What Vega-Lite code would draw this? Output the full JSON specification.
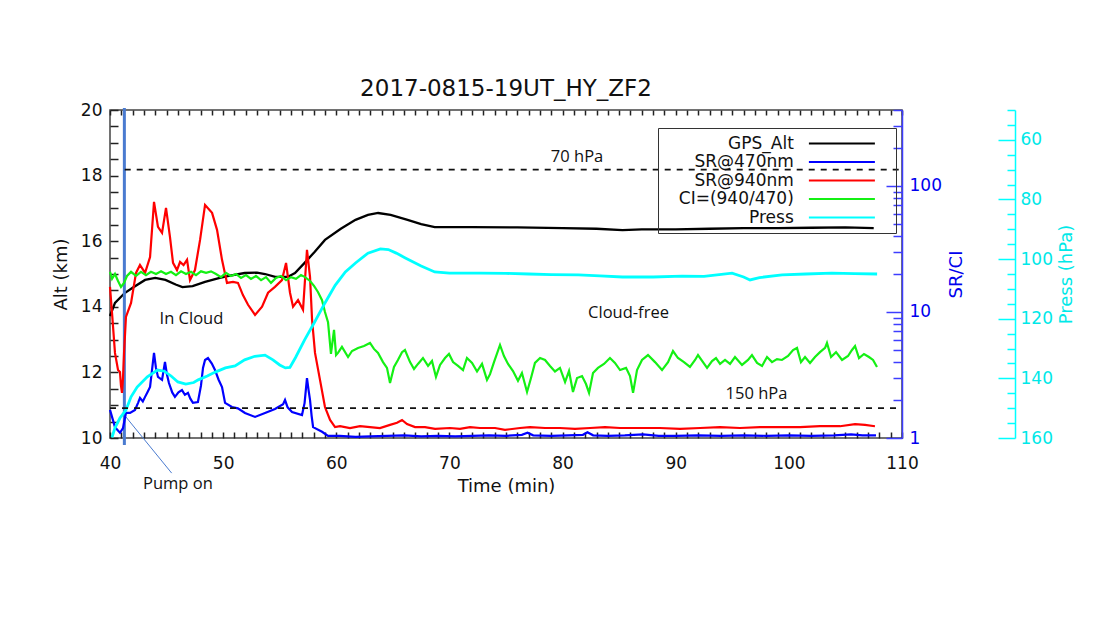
{
  "$schema": "https://vega.github.io/schema/vega-lite/v6.json",
  "width": 792,
  "height": 328,
  "autosize": {"type": "none"},
  "padding": {"left": 110, "top": 110, "right": 191, "bottom": 184},
  "background": "white",
  "title": {
    "text": "2017-0815-19UT_HY_ZF2",
    "font": "DejaVu Sans",
    "fontSize": 23,
    "fontWeight": "normal",
    "color": "#111111",
    "anchor": "middle",
    "frame": "group",
    "baseline": "alphabetic",
    "offset": -18
  },
  "config": {
    "view": {"stroke": "#444444", "strokeWidth": 1.5},
    "axis": {
      "grid": false,
      "domain": false,
      "minExtent": 0,
      "labelFont": "DejaVu Sans",
      "labelFontSize": 17,
      "labelColor": "#111111",
      "titleFont": "DejaVu Sans",
      "titleFontSize": 18,
      "titleFontWeight": "normal",
      "titleColor": "#111111",
      "tickColor": "#222222",
      "tickWidth": 1.5,
      "labelOverlap": false,
      "labelFlush": false
    }
  },
  "datasets": {
    "flight": [
      {"s": "GPS_Alt", "t": 40.0, "v": 13.72}, {"s": "GPS_Alt", "t": 40.44, "v": 14.12}, {"s": "GPS_Alt", "t": 41.3, "v": 14.42},
      {"s": "GPS_Alt", "t": 42.0, "v": 14.58}, {"s": "GPS_Alt", "t": 43.1, "v": 14.82}, {"s": "GPS_Alt", "t": 44.0, "v": 14.88},
      {"s": "GPS_Alt", "t": 44.9, "v": 14.82}, {"s": "GPS_Alt", "t": 45.8, "v": 14.68}, {"s": "GPS_Alt", "t": 46.4, "v": 14.6},
      {"s": "GPS_Alt", "t": 47.3, "v": 14.63}, {"s": "GPS_Alt", "t": 48.4, "v": 14.76}, {"s": "GPS_Alt", "t": 49.7, "v": 14.88},
      {"s": "GPS_Alt", "t": 50.5, "v": 14.94}, {"s": "GPS_Alt", "t": 51.9, "v": 15.03}, {"s": "GPS_Alt", "t": 53.0, "v": 15.04},
      {"s": "GPS_Alt", "t": 53.7, "v": 15.0}, {"s": "GPS_Alt", "t": 54.6, "v": 14.91}, {"s": "GPS_Alt", "t": 55.7, "v": 14.91},
      {"s": "GPS_Alt", "t": 56.35, "v": 15.03}, {"s": "GPS_Alt", "t": 57.2, "v": 15.34}, {"s": "GPS_Alt", "t": 58.1, "v": 15.68},
      {"s": "GPS_Alt", "t": 59.0, "v": 16.04}, {"s": "GPS_Alt", "t": 60.4, "v": 16.38}, {"s": "GPS_Alt", "t": 61.7, "v": 16.65},
      {"s": "GPS_Alt", "t": 62.8, "v": 16.8}, {"s": "GPS_Alt", "t": 63.7, "v": 16.86}, {"s": "GPS_Alt", "t": 64.8, "v": 16.8},
      {"s": "GPS_Alt", "t": 66.3, "v": 16.65}, {"s": "GPS_Alt", "t": 67.5, "v": 16.52}, {"s": "GPS_Alt", "t": 68.7, "v": 16.43},
      {"s": "GPS_Alt", "t": 72.0, "v": 16.43}, {"s": "GPS_Alt", "t": 76.0, "v": 16.42}, {"s": "GPS_Alt", "t": 80.0, "v": 16.4},
      {"s": "GPS_Alt", "t": 83.0, "v": 16.38}, {"s": "GPS_Alt", "t": 85.3, "v": 16.34}, {"s": "GPS_Alt", "t": 87.0, "v": 16.36},
      {"s": "GPS_Alt", "t": 90.0, "v": 16.36}, {"s": "GPS_Alt", "t": 93.0, "v": 16.38}, {"s": "GPS_Alt", "t": 96.0, "v": 16.4},
      {"s": "GPS_Alt", "t": 99.0, "v": 16.4}, {"s": "GPS_Alt", "t": 102.0, "v": 16.41}, {"s": "GPS_Alt", "t": 105.0, "v": 16.42},
      {"s": "GPS_Alt", "t": 107.5, "v": 16.4},

      {"s": "SR@470nm", "t": 40.0, "v": 1.67}, {"s": "SR@470nm", "t": 40.44, "v": 1.22}, {"s": "SR@470nm", "t": 40.88, "v": 1.1},
      {"s": "SR@470nm", "t": 41.15, "v": 1.2}, {"s": "SR@470nm", "t": 41.41, "v": 1.58}, {"s": "SR@470nm", "t": 41.77, "v": 1.58},
      {"s": "SR@470nm", "t": 42.21, "v": 1.67}, {"s": "SR@470nm", "t": 42.48, "v": 1.9}, {"s": "SR@470nm", "t": 42.65, "v": 2.08},
      {"s": "SR@470nm", "t": 42.9, "v": 1.95}, {"s": "SR@470nm", "t": 43.1, "v": 2.12}, {"s": "SR@470nm", "t": 43.3, "v": 2.3},
      {"s": "SR@470nm", "t": 43.54, "v": 2.54}, {"s": "SR@470nm", "t": 43.89, "v": 4.73}, {"s": "SR@470nm", "t": 44.06, "v": 3.6},
      {"s": "SR@470nm", "t": 44.24, "v": 3.05}, {"s": "SR@470nm", "t": 44.6, "v": 2.89}, {"s": "SR@470nm", "t": 44.86, "v": 4.01},
      {"s": "SR@470nm", "t": 45.03, "v": 3.2}, {"s": "SR@470nm", "t": 45.21, "v": 2.73}, {"s": "SR@470nm", "t": 45.5, "v": 2.3},
      {"s": "SR@470nm", "t": 45.74, "v": 2.12}, {"s": "SR@470nm", "t": 46.05, "v": 2.3}, {"s": "SR@470nm", "t": 46.36, "v": 2.4},
      {"s": "SR@470nm", "t": 46.62, "v": 2.2}, {"s": "SR@470nm", "t": 46.89, "v": 2.28}, {"s": "SR@470nm", "t": 47.1, "v": 2.05},
      {"s": "SR@470nm", "t": 47.33, "v": 1.9}, {"s": "SR@470nm", "t": 47.77, "v": 1.93}, {"s": "SR@470nm", "t": 48.04, "v": 2.6},
      {"s": "SR@470nm", "t": 48.22, "v": 3.6}, {"s": "SR@470nm", "t": 48.4, "v": 4.16}, {"s": "SR@470nm", "t": 48.66, "v": 4.31},
      {"s": "SR@470nm", "t": 49.0, "v": 3.9}, {"s": "SR@470nm", "t": 49.28, "v": 3.46}, {"s": "SR@470nm", "t": 49.6, "v": 2.9},
      {"s": "SR@470nm", "t": 49.9, "v": 2.54}, {"s": "SR@470nm", "t": 50.17, "v": 1.9}, {"s": "SR@470nm", "t": 50.78, "v": 1.76},
      {"s": "SR@470nm", "t": 51.3, "v": 1.72}, {"s": "SR@470nm", "t": 51.93, "v": 1.58}, {"s": "SR@470nm", "t": 52.82, "v": 1.47},
      {"s": "SR@470nm", "t": 53.7, "v": 1.58}, {"s": "SR@470nm", "t": 54.58, "v": 1.7}, {"s": "SR@470nm", "t": 55.3, "v": 1.85},
      {"s": "SR@470nm", "t": 55.47, "v": 2.0}, {"s": "SR@470nm", "t": 55.7, "v": 1.75}, {"s": "SR@470nm", "t": 56.09, "v": 1.61},
      {"s": "SR@470nm", "t": 56.97, "v": 1.52}, {"s": "SR@470nm", "t": 57.2, "v": 1.9}, {"s": "SR@470nm", "t": 57.41, "v": 2.99},
      {"s": "SR@470nm", "t": 57.55, "v": 2.4}, {"s": "SR@470nm", "t": 57.68, "v": 2.0}, {"s": "SR@470nm", "t": 57.82, "v": 1.5},
      {"s": "SR@470nm", "t": 57.95, "v": 1.22}, {"s": "SR@470nm", "t": 58.74, "v": 1.12}, {"s": "SR@470nm", "t": 59.27, "v": 1.04},
      {"s": "SR@470nm", "t": 60.3, "v": 1.04}, {"s": "SR@470nm", "t": 61.7, "v": 1.02}, {"s": "SR@470nm", "t": 63.0, "v": 1.03},
      {"s": "SR@470nm", "t": 64.5, "v": 1.04}, {"s": "SR@470nm", "t": 66.0, "v": 1.05}, {"s": "SR@470nm", "t": 67.5, "v": 1.03},
      {"s": "SR@470nm", "t": 69.0, "v": 1.04}, {"s": "SR@470nm", "t": 70.5, "v": 1.03}, {"s": "SR@470nm", "t": 72.0, "v": 1.04},
      {"s": "SR@470nm", "t": 73.5, "v": 1.05}, {"s": "SR@470nm", "t": 75.0, "v": 1.04}, {"s": "SR@470nm", "t": 76.4, "v": 1.06},
      {"s": "SR@470nm", "t": 76.9, "v": 1.1}, {"s": "SR@470nm", "t": 77.4, "v": 1.05}, {"s": "SR@470nm", "t": 79.0, "v": 1.04},
      {"s": "SR@470nm", "t": 80.5, "v": 1.05}, {"s": "SR@470nm", "t": 81.8, "v": 1.06}, {"s": "SR@470nm", "t": 82.2, "v": 1.11},
      {"s": "SR@470nm", "t": 82.7, "v": 1.05}, {"s": "SR@470nm", "t": 84.0, "v": 1.04}, {"s": "SR@470nm", "t": 85.5, "v": 1.05},
      {"s": "SR@470nm", "t": 87.1, "v": 1.07}, {"s": "SR@470nm", "t": 88.5, "v": 1.04}, {"s": "SR@470nm", "t": 90.0, "v": 1.04},
      {"s": "SR@470nm", "t": 92.0, "v": 1.05}, {"s": "SR@470nm", "t": 94.0, "v": 1.04}, {"s": "SR@470nm", "t": 96.0, "v": 1.05},
      {"s": "SR@470nm", "t": 98.0, "v": 1.04}, {"s": "SR@470nm", "t": 100.0, "v": 1.05}, {"s": "SR@470nm", "t": 102.0, "v": 1.04},
      {"s": "SR@470nm", "t": 104.0, "v": 1.05}, {"s": "SR@470nm", "t": 105.5, "v": 1.07}, {"s": "SR@470nm", "t": 106.5, "v": 1.05},
      {"s": "SR@470nm", "t": 107.7, "v": 1.05},

      {"s": "SR@940nm", "t": 40.0, "v": 15.8}, {"s": "SR@940nm", "t": 40.18, "v": 9.8}, {"s": "SR@940nm", "t": 40.44, "v": 4.73},
      {"s": "SR@940nm", "t": 40.71, "v": 3.46}, {"s": "SR@940nm", "t": 40.88, "v": 3.34}, {"s": "SR@940nm", "t": 40.97, "v": 2.6},
      {"s": "SR@940nm", "t": 41.06, "v": 2.28}, {"s": "SR@940nm", "t": 41.15, "v": 3.0}, {"s": "SR@940nm", "t": 41.24, "v": 4.73},
      {"s": "SR@940nm", "t": 41.41, "v": 9.13}, {"s": "SR@940nm", "t": 41.86, "v": 11.8}, {"s": "SR@940nm", "t": 42.3, "v": 20.4},
      {"s": "SR@940nm", "t": 42.65, "v": 23.6}, {"s": "SR@940nm", "t": 43.1, "v": 20.4}, {"s": "SR@940nm", "t": 43.54, "v": 27.3},
      {"s": "SR@940nm", "t": 43.89, "v": 74.6}, {"s": "SR@940nm", "t": 44.24, "v": 47.3}, {"s": "SR@940nm", "t": 44.6, "v": 42.4},
      {"s": "SR@940nm", "t": 44.95, "v": 66.9}, {"s": "SR@940nm", "t": 45.3, "v": 39.4}, {"s": "SR@940nm", "t": 45.57, "v": 24.5},
      {"s": "SR@940nm", "t": 45.92, "v": 21.5}, {"s": "SR@940nm", "t": 46.19, "v": 24.9}, {"s": "SR@940nm", "t": 46.5, "v": 23.5},
      {"s": "SR@940nm", "t": 46.81, "v": 25.9}, {"s": "SR@940nm", "t": 47.07, "v": 17.9}, {"s": "SR@940nm", "t": 47.51, "v": 21.5},
      {"s": "SR@940nm", "t": 47.96, "v": 37.3}, {"s": "SR@940nm", "t": 48.4, "v": 70.6}, {"s": "SR@940nm", "t": 49.02, "v": 61.1},
      {"s": "SR@940nm", "t": 49.46, "v": 44.8}, {"s": "SR@940nm", "t": 49.9, "v": 25.9}, {"s": "SR@940nm", "t": 50.34, "v": 17.0},
      {"s": "SR@940nm", "t": 50.87, "v": 17.3}, {"s": "SR@940nm", "t": 51.31, "v": 17.0}, {"s": "SR@940nm", "t": 51.75, "v": 13.6},
      {"s": "SR@940nm", "t": 52.2, "v": 11.4}, {"s": "SR@940nm", "t": 52.82, "v": 9.47}, {"s": "SR@940nm", "t": 53.44, "v": 11.0},
      {"s": "SR@940nm", "t": 53.97, "v": 14.2}, {"s": "SR@940nm", "t": 54.58, "v": 15.8}, {"s": "SR@940nm", "t": 55.2, "v": 17.9},
      {"s": "SR@940nm", "t": 55.56, "v": 24.5}, {"s": "SR@940nm", "t": 55.91, "v": 14.2}, {"s": "SR@940nm", "t": 56.18, "v": 11.0},
      {"s": "SR@940nm", "t": 56.62, "v": 12.4}, {"s": "SR@940nm", "t": 57.06, "v": 10.4}, {"s": "SR@940nm", "t": 57.41, "v": 31.1},
      {"s": "SR@940nm", "t": 57.68, "v": 18.9}, {"s": "SR@940nm", "t": 57.86, "v": 8.64}, {"s": "SR@940nm", "t": 58.12, "v": 4.73},
      {"s": "SR@940nm", "t": 58.56, "v": 2.89}, {"s": "SR@940nm", "t": 59.0, "v": 1.76}, {"s": "SR@940nm", "t": 59.45, "v": 1.39},
      {"s": "SR@940nm", "t": 59.89, "v": 1.22}, {"s": "SR@940nm", "t": 60.33, "v": 1.24}, {"s": "SR@940nm", "t": 61.21, "v": 1.2},
      {"s": "SR@940nm", "t": 62.1, "v": 1.24}, {"s": "SR@940nm", "t": 62.98, "v": 1.22}, {"s": "SR@940nm", "t": 63.86, "v": 1.2},
      {"s": "SR@940nm", "t": 64.75, "v": 1.27}, {"s": "SR@940nm", "t": 65.37, "v": 1.32}, {"s": "SR@940nm", "t": 65.81, "v": 1.39},
      {"s": "SR@940nm", "t": 66.25, "v": 1.29}, {"s": "SR@940nm", "t": 66.96, "v": 1.22}, {"s": "SR@940nm", "t": 67.84, "v": 1.22},
      {"s": "SR@940nm", "t": 68.73, "v": 1.18}, {"s": "SR@940nm", "t": 70.05, "v": 1.2}, {"s": "SR@940nm", "t": 70.93, "v": 1.18},
      {"s": "SR@940nm", "t": 71.82, "v": 1.22}, {"s": "SR@940nm", "t": 72.7, "v": 1.2}, {"s": "SR@940nm", "t": 74.03, "v": 1.2},
      {"s": "SR@940nm", "t": 74.91, "v": 1.16}, {"s": "SR@940nm", "t": 76.24, "v": 1.2}, {"s": "SR@940nm", "t": 77.12, "v": 1.22},
      {"s": "SR@940nm", "t": 78.45, "v": 1.2}, {"s": "SR@940nm", "t": 79.77, "v": 1.2}, {"s": "SR@940nm", "t": 81.1, "v": 1.18},
      {"s": "SR@940nm", "t": 82.43, "v": 1.2}, {"s": "SR@940nm", "t": 83.75, "v": 1.22}, {"s": "SR@940nm", "t": 85.08, "v": 1.2},
      {"s": "SR@940nm", "t": 86.84, "v": 1.2}, {"s": "SR@940nm", "t": 88.61, "v": 1.2}, {"s": "SR@940nm", "t": 90.38, "v": 1.18},
      {"s": "SR@940nm", "t": 92.15, "v": 1.2}, {"s": "SR@940nm", "t": 93.92, "v": 1.22}, {"s": "SR@940nm", "t": 95.68, "v": 1.2},
      {"s": "SR@940nm", "t": 97.45, "v": 1.22}, {"s": "SR@940nm", "t": 99.22, "v": 1.22}, {"s": "SR@940nm", "t": 100.99, "v": 1.22},
      {"s": "SR@940nm", "t": 102.75, "v": 1.24}, {"s": "SR@940nm", "t": 104.52, "v": 1.24}, {"s": "SR@940nm", "t": 105.85, "v": 1.29},
      {"s": "SR@940nm", "t": 106.73, "v": 1.27}, {"s": "SR@940nm", "t": 107.61, "v": 1.24},

      {"s": "CI=(940/470)", "t": 40.0, "v": 20.8}, {"s": "CI=(940/470)", "t": 40.18, "v": 18.3}, {"s": "CI=(940/470)", "t": 40.44, "v": 20.0},
      {"s": "CI=(940/470)", "t": 40.71, "v": 17.6}, {"s": "CI=(940/470)", "t": 40.97, "v": 15.8}, {"s": "CI=(940/470)", "t": 41.24, "v": 17.0},
      {"s": "CI=(940/470)", "t": 41.5, "v": 19.3}, {"s": "CI=(940/470)", "t": 41.86, "v": 20.8}, {"s": "CI=(940/470)", "t": 42.3, "v": 19.3},
      {"s": "CI=(940/470)", "t": 42.74, "v": 20.8}, {"s": "CI=(940/470)", "t": 43.18, "v": 19.6}, {"s": "CI=(940/470)", "t": 43.62, "v": 20.8},
      {"s": "CI=(940/470)", "t": 44.07, "v": 20.0}, {"s": "CI=(940/470)", "t": 44.51, "v": 21.0}, {"s": "CI=(940/470)", "t": 44.95, "v": 20.0},
      {"s": "CI=(940/470)", "t": 45.39, "v": 20.8}, {"s": "CI=(940/470)", "t": 45.83, "v": 19.6}, {"s": "CI=(940/470)", "t": 46.28, "v": 21.0},
      {"s": "CI=(940/470)", "t": 46.72, "v": 20.0}, {"s": "CI=(940/470)", "t": 47.16, "v": 20.8}, {"s": "CI=(940/470)", "t": 47.6, "v": 19.6},
      {"s": "CI=(940/470)", "t": 48.04, "v": 21.0}, {"s": "CI=(940/470)", "t": 48.49, "v": 20.4}, {"s": "CI=(940/470)", "t": 48.93, "v": 21.0},
      {"s": "CI=(940/470)", "t": 49.37, "v": 20.0}, {"s": "CI=(940/470)", "t": 49.81, "v": 18.9}, {"s": "CI=(940/470)", "t": 50.25, "v": 20.4},
      {"s": "CI=(940/470)", "t": 50.69, "v": 19.3}, {"s": "CI=(940/470)", "t": 51.14, "v": 20.0}, {"s": "CI=(940/470)", "t": 51.58, "v": 18.6},
      {"s": "CI=(940/470)", "t": 52.02, "v": 19.6}, {"s": "CI=(940/470)", "t": 52.46, "v": 18.3}, {"s": "CI=(940/470)", "t": 52.9, "v": 19.3},
      {"s": "CI=(940/470)", "t": 53.35, "v": 17.9}, {"s": "CI=(940/470)", "t": 53.79, "v": 18.9}, {"s": "CI=(940/470)", "t": 54.23, "v": 17.0},
      {"s": "CI=(940/470)", "t": 54.67, "v": 18.6}, {"s": "CI=(940/470)", "t": 55.11, "v": 19.3}, {"s": "CI=(940/470)", "t": 55.56, "v": 17.9},
      {"s": "CI=(940/470)", "t": 56.0, "v": 18.9}, {"s": "CI=(940/470)", "t": 56.44, "v": 18.3}, {"s": "CI=(940/470)", "t": 56.88, "v": 19.6},
      {"s": "CI=(940/470)", "t": 57.24, "v": 18.9}, {"s": "CI=(940/470)", "t": 57.68, "v": 17.6}, {"s": "CI=(940/470)", "t": 58.03, "v": 16.1},
      {"s": "CI=(940/470)", "t": 58.38, "v": 14.4}, {"s": "CI=(940/470)", "t": 58.74, "v": 12.4}, {"s": "CI=(940/470)", "t": 59.0, "v": 10.0},
      {"s": "CI=(940/470)", "t": 59.27, "v": 8.3}, {"s": "CI=(940/470)", "t": 59.53, "v": 4.64}, {"s": "CI=(940/470)", "t": 59.8, "v": 7.2},
      {"s": "CI=(940/470)", "t": 59.98, "v": 4.55}, {"s": "CI=(940/470)", "t": 60.15, "v": 4.73}, {"s": "CI=(940/470)", "t": 60.5, "v": 5.28},
      {"s": "CI=(940/470)", "t": 61.04, "v": 4.39}, {"s": "CI=(940/470)", "t": 61.39, "v": 4.9}, {"s": "CI=(940/470)", "t": 61.92, "v": 5.18},
      {"s": "CI=(940/470)", "t": 62.45, "v": 5.37}, {"s": "CI=(940/470)", "t": 62.98, "v": 5.67}, {"s": "CI=(940/470)", "t": 63.33, "v": 5.09},
      {"s": "CI=(940/470)", "t": 63.69, "v": 4.73}, {"s": "CI=(940/470)", "t": 64.13, "v": 4.0}, {"s": "CI=(940/470)", "t": 64.48, "v": 3.6},
      {"s": "CI=(940/470)", "t": 64.75, "v": 2.73}, {"s": "CI=(940/470)", "t": 65.1, "v": 3.66}, {"s": "CI=(940/470)", "t": 65.45, "v": 4.16},
      {"s": "CI=(940/470)", "t": 65.81, "v": 4.8}, {"s": "CI=(940/470)", "t": 66.07, "v": 4.99}, {"s": "CI=(940/470)", "t": 66.52, "v": 4.0},
      {"s": "CI=(940/470)", "t": 66.87, "v": 3.53}, {"s": "CI=(940/470)", "t": 67.22, "v": 3.87}, {"s": "CI=(940/470)", "t": 67.66, "v": 4.31},
      {"s": "CI=(940/470)", "t": 68.11, "v": 3.73}, {"s": "CI=(940/470)", "t": 68.46, "v": 4.08}, {"s": "CI=(940/470)", "t": 68.81, "v": 3.05},
      {"s": "CI=(940/470)", "t": 69.17, "v": 3.8}, {"s": "CI=(940/470)", "t": 69.61, "v": 4.31}, {"s": "CI=(940/470)", "t": 69.96, "v": 4.64},
      {"s": "CI=(940/470)", "t": 70.32, "v": 4.0}, {"s": "CI=(940/470)", "t": 70.76, "v": 3.73}, {"s": "CI=(940/470)", "t": 71.2, "v": 3.46},
      {"s": "CI=(940/470)", "t": 71.55, "v": 4.31}, {"s": "CI=(940/470)", "t": 72.0, "v": 3.94}, {"s": "CI=(940/470)", "t": 72.44, "v": 3.37},
      {"s": "CI=(940/470)", "t": 72.88, "v": 3.87}, {"s": "CI=(940/470)", "t": 73.32, "v": 2.89}, {"s": "CI=(940/470)", "t": 73.59, "v": 3.21},
      {"s": "CI=(940/470)", "t": 73.94, "v": 4.0}, {"s": "CI=(940/470)", "t": 74.47, "v": 5.47}, {"s": "CI=(940/470)", "t": 74.82, "v": 4.47},
      {"s": "CI=(940/470)", "t": 75.18, "v": 3.87}, {"s": "CI=(940/470)", "t": 75.62, "v": 3.4}, {"s": "CI=(940/470)", "t": 76.06, "v": 2.84},
      {"s": "CI=(940/470)", "t": 76.41, "v": 3.28}, {"s": "CI=(940/470)", "t": 76.86, "v": 2.32}, {"s": "CI=(940/470)", "t": 77.21, "v": 2.99},
      {"s": "CI=(940/470)", "t": 77.56, "v": 3.94}, {"s": "CI=(940/470)", "t": 78.01, "v": 4.31}, {"s": "CI=(940/470)", "t": 78.45, "v": 4.16},
      {"s": "CI=(940/470)", "t": 78.89, "v": 3.73}, {"s": "CI=(940/470)", "t": 79.33, "v": 3.37}, {"s": "CI=(940/470)", "t": 79.77, "v": 3.6},
      {"s": "CI=(940/470)", "t": 80.22, "v": 2.78}, {"s": "CI=(940/470)", "t": 80.57, "v": 3.4}, {"s": "CI=(940/470)", "t": 80.92, "v": 2.32},
      {"s": "CI=(940/470)", "t": 81.28, "v": 2.99}, {"s": "CI=(940/470)", "t": 81.72, "v": 3.1}, {"s": "CI=(940/470)", "t": 82.07, "v": 2.68},
      {"s": "CI=(940/470)", "t": 82.34, "v": 2.28}, {"s": "CI=(940/470)", "t": 82.69, "v": 3.28}, {"s": "CI=(940/470)", "t": 83.13, "v": 3.6},
      {"s": "CI=(940/470)", "t": 83.66, "v": 3.87}, {"s": "CI=(940/470)", "t": 84.19, "v": 4.31}, {"s": "CI=(940/470)", "t": 84.63, "v": 3.94},
      {"s": "CI=(940/470)", "t": 85.08, "v": 3.46}, {"s": "CI=(940/470)", "t": 85.61, "v": 3.6}, {"s": "CI=(940/470)", "t": 85.96, "v": 3.1},
      {"s": "CI=(940/470)", "t": 86.23, "v": 2.28}, {"s": "CI=(940/470)", "t": 86.58, "v": 3.46}, {"s": "CI=(940/470)", "t": 87.02, "v": 4.16},
      {"s": "CI=(940/470)", "t": 87.55, "v": 4.55}, {"s": "CI=(940/470)", "t": 88.17, "v": 4.0}, {"s": "CI=(940/470)", "t": 88.79, "v": 3.46},
      {"s": "CI=(940/470)", "t": 89.32, "v": 4.0}, {"s": "CI=(940/470)", "t": 89.76, "v": 4.9}, {"s": "CI=(940/470)", "t": 90.2, "v": 4.31},
      {"s": "CI=(940/470)", "t": 90.73, "v": 4.0}, {"s": "CI=(940/470)", "t": 91.26, "v": 3.66}, {"s": "CI=(940/470)", "t": 91.71, "v": 4.16},
      {"s": "CI=(940/470)", "t": 91.97, "v": 4.55}, {"s": "CI=(940/470)", "t": 92.41, "v": 4.0}, {"s": "CI=(940/470)", "t": 92.77, "v": 3.6},
      {"s": "CI=(940/470)", "t": 93.21, "v": 4.08}, {"s": "CI=(940/470)", "t": 93.56, "v": 4.31}, {"s": "CI=(940/470)", "t": 93.92, "v": 3.87},
      {"s": "CI=(940/470)", "t": 94.36, "v": 4.16}, {"s": "CI=(940/470)", "t": 94.8, "v": 3.87}, {"s": "CI=(940/470)", "t": 95.24, "v": 4.39},
      {"s": "CI=(940/470)", "t": 95.86, "v": 3.8}, {"s": "CI=(940/470)", "t": 96.39, "v": 4.16}, {"s": "CI=(940/470)", "t": 96.74, "v": 4.55},
      {"s": "CI=(940/470)", "t": 97.19, "v": 3.94}, {"s": "CI=(940/470)", "t": 97.63, "v": 3.73}, {"s": "CI=(940/470)", "t": 98.07, "v": 4.39},
      {"s": "CI=(940/470)", "t": 98.51, "v": 4.0}, {"s": "CI=(940/470)", "t": 98.95, "v": 4.23}, {"s": "CI=(940/470)", "t": 99.39, "v": 4.16},
      {"s": "CI=(940/470)", "t": 99.93, "v": 4.47}, {"s": "CI=(940/470)", "t": 100.37, "v": 4.99}, {"s": "CI=(940/470)", "t": 100.72, "v": 5.18},
      {"s": "CI=(940/470)", "t": 101.07, "v": 4.0}, {"s": "CI=(940/470)", "t": 101.43, "v": 4.39}, {"s": "CI=(940/470)", "t": 101.87, "v": 3.94},
      {"s": "CI=(940/470)", "t": 102.31, "v": 4.39}, {"s": "CI=(940/470)", "t": 102.75, "v": 4.8}, {"s": "CI=(940/470)", "t": 103.2, "v": 5.18},
      {"s": "CI=(940/470)", "t": 103.37, "v": 5.67}, {"s": "CI=(940/470)", "t": 103.73, "v": 4.39}, {"s": "CI=(940/470)", "t": 104.17, "v": 4.8},
      {"s": "CI=(940/470)", "t": 104.7, "v": 4.16}, {"s": "CI=(940/470)", "t": 105.23, "v": 4.47}, {"s": "CI=(940/470)", "t": 105.58, "v": 4.99},
      {"s": "CI=(940/470)", "t": 105.85, "v": 5.37}, {"s": "CI=(940/470)", "t": 106.2, "v": 4.31}, {"s": "CI=(940/470)", "t": 106.64, "v": 4.64},
      {"s": "CI=(940/470)", "t": 107.08, "v": 4.39}, {"s": "CI=(940/470)", "t": 107.44, "v": 4.16}, {"s": "CI=(940/470)", "t": 107.79, "v": 3.66},

      {"s": "Press", "t": 40.18, "v": 159.8}, {"s": "Press", "t": 40.44, "v": 156.6}, {"s": "Press", "t": 40.88, "v": 153.3},
      {"s": "Press", "t": 41.41, "v": 150.6}, {"s": "Press", "t": 41.86, "v": 146.2}, {"s": "Press", "t": 42.4, "v": 142.9},
      {"s": "Press", "t": 43.3, "v": 139.5}, {"s": "Press", "t": 44.2, "v": 137.2}, {"s": "Press", "t": 44.8, "v": 137.6},
      {"s": "Press", "t": 45.4, "v": 139.2}, {"s": "Press", "t": 46.0, "v": 141.2}, {"s": "Press", "t": 46.7, "v": 141.9},
      {"s": "Press", "t": 47.4, "v": 141.4}, {"s": "Press", "t": 47.8, "v": 140.5}, {"s": "Press", "t": 48.6, "v": 139.2},
      {"s": "Press", "t": 49.3, "v": 137.9}, {"s": "Press", "t": 50.2, "v": 136.5}, {"s": "Press", "t": 51.05, "v": 135.8},
      {"s": "Press", "t": 51.9, "v": 133.8}, {"s": "Press", "t": 52.8, "v": 132.6}, {"s": "Press", "t": 53.7, "v": 132.2},
      {"s": "Press", "t": 54.4, "v": 133.8}, {"s": "Press", "t": 55.0, "v": 135.5}, {"s": "Press", "t": 55.5, "v": 136.5},
      {"s": "Press", "t": 55.9, "v": 136.3}, {"s": "Press", "t": 56.4, "v": 133.0}, {"s": "Press", "t": 57.2, "v": 127.1},
      {"s": "Press", "t": 58.1, "v": 121.0}, {"s": "Press", "t": 59.0, "v": 114.7}, {"s": "Press", "t": 59.9, "v": 108.8},
      {"s": "Press", "t": 60.8, "v": 104.3}, {"s": "Press", "t": 61.7, "v": 101.3}, {"s": "Press", "t": 62.8, "v": 98.0},
      {"s": "Press", "t": 63.9, "v": 96.6}, {"s": "Press", "t": 64.6, "v": 96.8}, {"s": "Press", "t": 65.3, "v": 98.0},
      {"s": "Press", "t": 66.1, "v": 99.6}, {"s": "Press", "t": 67.5, "v": 102.3}, {"s": "Press", "t": 68.7, "v": 104.3},
      {"s": "Press", "t": 70.0, "v": 104.7}, {"s": "Press", "t": 72.7, "v": 104.7}, {"s": "Press", "t": 75.0, "v": 104.8},
      {"s": "Press", "t": 77.0, "v": 105.0}, {"s": "Press", "t": 79.0, "v": 105.2}, {"s": "Press", "t": 81.4, "v": 105.3},
      {"s": "Press", "t": 83.3, "v": 105.6}, {"s": "Press", "t": 85.3, "v": 106.0}, {"s": "Press", "t": 88.0, "v": 106.0},
      {"s": "Press", "t": 90.56, "v": 105.7}, {"s": "Press", "t": 92.5, "v": 105.8}, {"s": "Press", "t": 94.98, "v": 104.7},
      {"s": "Press", "t": 96.0, "v": 106.0}, {"s": "Press", "t": 96.57, "v": 107.0}, {"s": "Press", "t": 97.4, "v": 106.2},
      {"s": "Press", "t": 99.4, "v": 105.3}, {"s": "Press", "t": 101.5, "v": 105.0}, {"s": "Press", "t": 103.8, "v": 104.7},
      {"s": "Press", "t": 105.8, "v": 104.9}, {"s": "Press", "t": 107.8, "v": 105.0}
    ],
    "pump": [
      {"k": "pump_on", "t": 41.27, "t2": 41.27, "v": 20.06, "v2": 9.79},
      {"k": "pointer", "t": 41.41, "t2": 45.45, "v": 10.64, "v2": 8.93}
    ],
    "levels": [
      {"v": 70, "t": 41.3, "t2": 110},
      {"v": 150, "t": 40, "t2": 110}
    ],
    "notes": [
      {"text": "In Cloud", "t": 47.2, "v": 13.63, "scale": "alt"},
      {"text": "Cloud-free", "t": 85.83, "v": 13.8, "scale": "alt"},
      {"text": "Pump on", "t": 46.0, "v": 8.6, "scale": "alt"},
      {"text": "70 hPa", "t": 81.28, "v": 65.8, "scale": "press"},
      {"text": "150 hPa", "t": 97.14, "v": 145.2, "scale": "press"}
    ]
  },
  "layer": [
    {
      "encoding": {
        "x": {
          "field": "t", "type": "quantitative",
          "scale": {"domain": [40, 110], "nice": false, "zero": false},
          "axis": {
            "orient": "bottom", "title": "Time (min)",
            "values": [40,41,42,43,44,45,46,47,48,49,50,51,52,53,54,55,56,57,58,59,60,61,62,63,64,65,66,67,68,69,70,71,72,73,74,75,76,77,78,79,80,81,82,83,84,85,86,87,88,89,90,91,92,93,94,95,96,97,98,99,100,101,102,103,104,105,106,107,108,109,110],
            "labelExpr": "datum.value % 10 === 0 ? format(datum.value, 'd') : ''",
            "tickSize": -6, "labelPadding": 23, "titlePadding": 6
          }
        },
        "y": {
          "field": "v", "type": "quantitative",
          "scale": {"domain": [10, 20], "nice": false, "zero": false},
          "axis": {
            "orient": "left", "title": "Alt (km)",
            "values": [10,10.5,11,11.5,12,12.5,13,13.5,14,14.5,15,15.5,16,16.5,17,17.5,18,18.5,19,19.5,20],
            "labelExpr": "datum.value % 2 === 0 ? format(datum.value, 'd') : ''",
            "tickSize": -8, "labelPadding": 16, "titlePadding": 10
          }
        }
      },
      "layer": [
        {
          "data": {"name": "flight"},
          "transform": [{"filter": "datum.s === 'GPS_Alt'"}],
          "mark": {"type": "line", "strokeWidth": 2.3},
          "encoding": {
            "color": {
              "field": "s", "type": "nominal",
              "scale": {
                "domain": ["GPS_Alt", "SR@470nm", "SR@940nm", "CI=(940/470)", "Press"],
                "range": ["#000000", "#0000FF", "#FF0000", "#14F014", "#00FFFF"]
              },
              "legend": {
                "orient": "none", "legendX": 548, "legendY": 18,
                "direction": "vertical", "title": null,
                "symbolType": "M-5,0H5M6.5,0", "symbolSize": 174.24, "symbolStrokeWidth": 2,
                "symbolOffset": 168.4,
                "labelAlign": "right", "labelOffset": -56.6,
                "labelFont": "DejaVu Sans", "labelFontSize": 17, "labelColor": "#111111", "labelLimit": 300,
                "rowPadding": 0.5, "padding": 7, "strokeColor": "#333333"
              }
            }
          }
        },
        {
          "data": {"name": "pump"},
          "transform": [{"filter": "datum.k === 'pump_on'"}],
          "mark": {"type": "rule", "color": "#4A7BD0", "strokeWidth": 3, "clip": false},
          "encoding": {"x2": {"field": "t2"}, "y2": {"field": "v2"}}
        },
        {
          "data": {"name": "pump"},
          "transform": [{"filter": "datum.k === 'pointer'"}],
          "mark": {"type": "rule", "color": "#4A7BD0", "strokeWidth": 1, "clip": false},
          "encoding": {"x2": {"field": "t2"}, "y2": {"field": "v2"}}
        },
        {
          "data": {"name": "notes"},
          "transform": [{"filter": "datum.scale === 'alt'"}],
          "mark": {"type": "text", "font": "Open Sans", "fontSize": 16.5, "color": "#111111", "baseline": "middle", "clip": false},
          "encoding": {"text": {"field": "text"}}
        }
      ]
    },
    {
      "data": {"name": "flight"},
      "transform": [{"filter": "datum.s !== 'GPS_Alt' && datum.s !== 'Press'"}],
      "mark": {"type": "line", "strokeWidth": 2.2},
      "encoding": {
        "x": {"field": "t", "type": "quantitative", "scale": {"domain": [40, 110], "nice": false, "zero": false}, "axis": null},
        "y": {
          "field": "v", "type": "quantitative",
          "scale": {"type": "log", "domain": [1, 400], "nice": false},
          "axis": {
            "orient": "right", "title": "SR/CI",
            "values": [1,2,3,4,5,6,7,8,9,10,20,30,40,50,60,70,80,90,100,200,300,400],
            "labelExpr": "datum.value === 1 || datum.value === 10 || datum.value === 100 ? format(datum.value, 'd') : ''",
            "tickSize": {"condition": {"test": "datum.value === 1 || datum.value === 10 || datum.value === 100", "value": -16}, "value": -9},
            "labelPadding": 23,
            "domain": true, "domainColor": "#3D3DFF", "domainWidth": 1.5,
            "tickColor": "#3D3DFF", "labelColor": "#0000EE", "titleColor": "#0000EE",
            "titleAngle": -90, "titleBaseline": "top", "titlePadding": 6
          }
        },
        "color": {
          "field": "s", "type": "nominal",
          "scale": {
            "domain": ["GPS_Alt", "SR@470nm", "SR@940nm", "CI=(940/470)", "Press"],
            "range": ["#000000", "#0000FF", "#FF0000", "#14F014", "#00FFFF"]
          }
        }
      }
    },
    {
      "encoding": {
        "x": {
          "field": "t", "type": "quantitative",
          "scale": {"domain": [40, 110], "nice": false, "zero": false},
          "axis": {
            "orient": "top", "title": null, "labels": false, "minExtent": 0,
            "values": [40,41,42,43,44,45,46,47,48,49,50,51,52,53,54,55,56,57,58,59,60,61,62,63,64,65,66,67,68,69,70,71,72,73,74,75,76,77,78,79,80,81,82,83,84,85,86,87,88,89,90,91,92,93,94,95,96,97,98,99,100,101,102,103,104,105,106,107,108,109,110],
            "tickSize": -5
          }
        },
        "y": {
          "field": "v", "type": "quantitative",
          "scale": {"domain": [50, 160], "reverse": true, "nice": false, "zero": false},
          "axis": {
            "orient": "right", "offset": 113, "title": "Press (hPa)",
            "values": [50,55,60,65,70,75,80,85,90,95,100,105,110,115,120,125,130,135,140,145,150,155,160],
            "labelExpr": "datum.value % 20 === 0 ? format(datum.value, 'd') : ''",
            "tickSize": {"condition": {"test": "datum.value % 20 === 0", "value": -17}, "value": -8},
            "labelPadding": 22,
            "domain": true, "domainColor": "#00FFFF", "domainWidth": 1.5,
            "tickColor": "#00FFFF", "labelColor": "#00E8E8", "titleColor": "#00E8E8",
            "titleAngle": -90, "titleBaseline": "top", "titlePadding": 5
          }
        }
      },
      "layer": [
        {
          "data": {"name": "flight"},
          "transform": [{"filter": "datum.s === 'Press'"}],
          "mark": {"type": "line", "strokeWidth": 2.8},
          "encoding": {
            "color": {
              "field": "s", "type": "nominal",
              "scale": {
                "domain": ["GPS_Alt", "SR@470nm", "SR@940nm", "CI=(940/470)", "Press"],
                "range": ["#000000", "#0000FF", "#FF0000", "#14F014", "#00FFFF"]
              }
            }
          }
        },
        {
          "data": {"name": "levels"},
          "mark": {"type": "rule", "color": "#111111", "strokeWidth": 1.8, "strokeDash": [6, 6]},
          "encoding": {"x2": {"field": "t2"}}
        },
        {
          "data": {"name": "notes"},
          "transform": [{"filter": "datum.scale === 'press'"}],
          "mark": {"type": "text", "font": "Open Sans", "fontSize": 16.5, "color": "#111111", "baseline": "middle"},
          "encoding": {"text": {"field": "text"}}
        }
      ]
    }
  ],
  "resolve": {
    "scale": {"y": "independent"},
    "axis": {"x": "independent", "y": "independent"}
  }
}
